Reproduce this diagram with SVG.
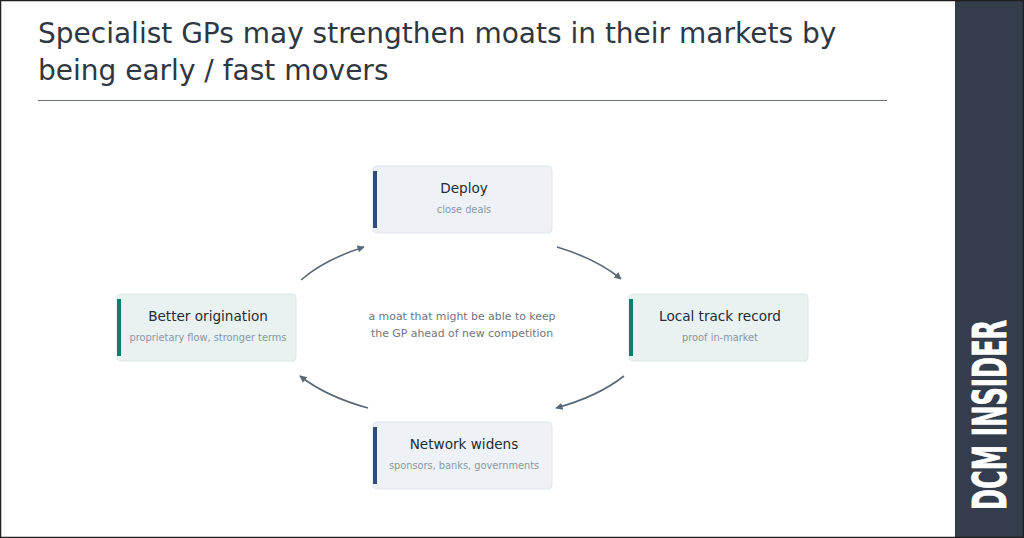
<svg xmlns="http://www.w3.org/2000/svg" width="1024" height="538" viewBox="0 0 1024 538">
<style>
.title{font-family:"DejaVu Sans",sans-serif;font-size:28px;fill:#2f3742}
.nt{font-family:"DejaVu Sans",sans-serif;font-size:13.6px;fill:#222b36;text-anchor:middle}
.ns{font-family:"DejaVu Sans",sans-serif;font-size:9.8px;fill:#8a96a3;text-anchor:middle}
.mid{font-family:"DejaVu Sans",sans-serif;font-size:10.9px;fill:#6b7683;text-anchor:middle}
.blue rect.box{fill:#eef2f7;stroke:#dde4ec;stroke-width:1}
.teal rect.box{fill:#e9f1f1;stroke:#dbe6e6;stroke-width:1}
.blue rect.bar{fill:#2d4e7a}
.teal rect.bar{fill:#147a70}
.conn path{fill:none;stroke:#5b6878;stroke-width:1.6}
</style>
<defs>
<marker id="ah" viewBox="0 0 10 10" refX="9" refY="5" markerWidth="4.5" markerHeight="4.5" orient="auto" markerUnits="strokeWidth">
<path d="M0,0 L10,5 L0,10 z" fill="#5b6878"/>
</marker>
</defs>
<rect x="0" y="0" width="1024" height="538" fill="#ffffff"/>
<rect x="955" y="0" width="69" height="538" fill="#333d4b"/>
<text transform="translate(1006,415) rotate(-90)" x="0" y="0" text-anchor="middle" textLength="190" lengthAdjust="spacingAndGlyphs" style="font-family:'Liberation Sans Narrow','DejaVu Sans Condensed','Liberation Sans',sans-serif;font-weight:bold;font-size:46px;fill:#ffffff;stroke:#ffffff;stroke-width:0.8">DCM INSIDER</text>
<rect x="0.5" y="0.5" width="1023" height="537" fill="none" stroke="#1f1f1f" stroke-width="1.5"/>
<g id="title">
<text class="title" x="38" y="43">Specialist GPs may strengthen moats in their markets by</text>
<text class="title" x="38" y="80">being early / fast movers</text>
<line x1="38" y1="100.5" x2="887" y2="100.5" stroke="#6e747b" stroke-width="1"/>
</g>
<g id="deploy" class="blue">
<rect class="box" x="373" y="166" width="179" height="67" rx="4"/>
<rect class="bar" x="373" y="171" width="4" height="57"/>
<text class="nt" x="464" y="193">Deploy</text>
<text class="ns" x="464" y="213">close deals</text>
</g>
<g id="track" class="teal">
<rect class="box" x="629" y="294" width="179" height="67" rx="4"/>
<rect class="bar" x="629" y="299" width="4" height="57"/>
<text class="nt" x="720" y="321">Local track record</text>
<text class="ns" x="720" y="341">proof in-market</text>
</g>
<g id="network" class="blue">
<rect class="box" x="373" y="422" width="179" height="67" rx="4"/>
<rect class="bar" x="373" y="427" width="4" height="57"/>
<text class="nt" x="464" y="449">Network widens</text>
<text class="ns" x="464" y="469">sponsors, banks, governments</text>
</g>
<g id="origination" class="teal">
<rect class="box" x="117" y="294" width="179" height="67" rx="4"/>
<rect class="bar" x="117" y="299" width="4" height="57"/>
<text class="nt" x="208" y="321">Better origination</text>
<text class="ns" x="208" y="341">proprietary flow, stronger terms</text>
</g>
<g id="center">
<text class="mid" x="462" y="320">a moat that might be able to keep</text>
<text class="mid" x="462" y="337">the GP ahead of new competition</text>
</g>
<g id="connectors" class="conn">
<path d="M301,280 A186,95 0 0 1 364,247" marker-end="url(#ah)"/>
<path d="M557,247 A186,95 0 0 1 621,279" marker-end="url(#ah)"/>
<path d="M624,376 A186,95 0 0 1 556,408" marker-end="url(#ah)"/>
<path d="M368,408 A186,95 0 0 1 300,376" marker-end="url(#ah)"/>
</g>
</svg>
